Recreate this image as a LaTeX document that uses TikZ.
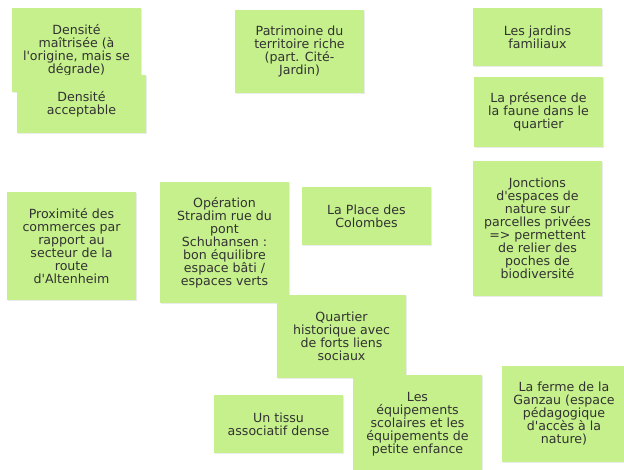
\documentclass[tikz,border=0pt]{standalone}
\usepackage{fontspec}
\setmainfont{DejaVu Sans}[Ligatures=TeXOff]
\usetikzlibrary{shadows}
\definecolor{notegreen}{RGB}{197,240,139}
\definecolor{notetext}{RGB}{50,50,50}
\tikzset{
  note/.style={fill=notegreen, text=notetext, inner sep=0pt, outer sep=0pt,
    anchor=north west, align=center, minimum width=129pt,
    font=\fontsize{12.6}{13}\selectfont,
    general shadow={fill=black!8, shadow xshift=0.6pt, shadow yshift=-1.2pt}}
}
\begin{document}
\begin{tikzpicture}[x=1pt,y=-1pt]
\useasboundingbox (0,0) rectangle (624,469);
\node[note, minimum height=84pt] (dens1) at (12,8) {Densité\\maîtrisée (à\\l'origine, mais se\\dégrade)};
\node[note, minimum height=58pt] (dens2) at (17,75) {Densité\\acceptable};
\node[note, minimum height=83pt] (patri) at (235,10) {Patrimoine du\\territoire riche\\(part. Cité-\\Jardin)};
\node[note, minimum height=58pt] (jard) at (473,8) {Les jardins\\familiaux};
\node[note, minimum height=70pt] (faune) at (474,77) {La présence de\\la faune dans le\\quartier};
\node[note, minimum height=108pt] (prox) at (7,192) {Proximité des\\commerces par\\rapport au\\secteur de la\\route\\d'Altenheim};
\node[note, minimum height=121pt] (stradim) at (160,182) {Opération\\Stradim rue du\\pont\\Schuhansen :\\bon équilibre\\espace bâti /\\espaces verts};
\node[note, minimum height=58pt] (place) at (302,187) {La Place des\\Colombes};
\node[note, minimum height=135pt] (jonct) at (473,161) {Jonctions\\d'espaces de\\nature sur\\parcelles privées\\=> permettent\\de relier des\\poches de\\biodiversité};
\node[note, minimum height=83pt] (quart) at (277,295) {Quartier\\historique avec\\de forts liens\\sociaux};
\node[note, minimum height=58pt] (tissu) at (214,395) {Un tissu\\associatif dense};
\node[note, minimum height=98pt] (equip) at (353,375) {Les\\équipements\\scolaires et les\\équipements de\\petite enfance};
\node[note, minimum height=96pt, minimum width=124pt] (ferme) at (502,366) {La ferme de la\\Ganzau (espace\\pédagogique\\d'accès à la\\nature)};
\end{tikzpicture}
\end{document}
